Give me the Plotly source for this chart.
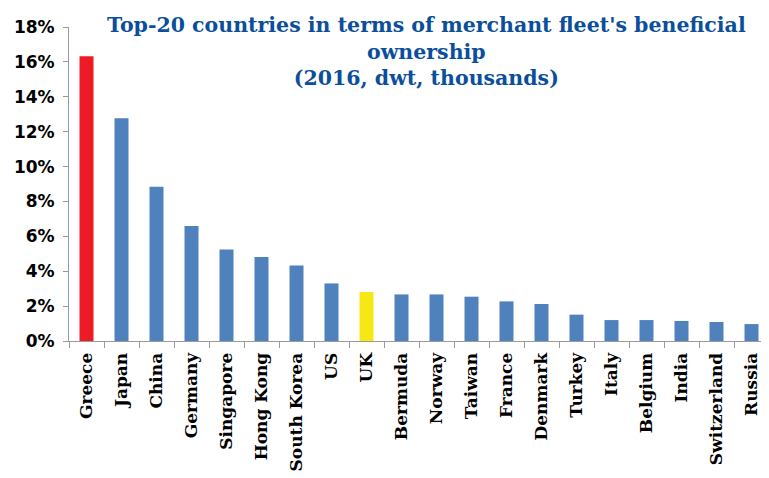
import plotly.graph_objects as go

countries = ["Greece", "Japan", "China", "Germany", "Singapore", "Hong Kong", "South Korea",
             "US", "UK", "Bermuda", "Norway", "Taiwan", "France", "Denmark", "Turkey",
             "Italy", "Belgium", "India", "Switzerland", "Russia"]
shares = [16.32, 12.77, 8.84, 6.59, 5.25, 4.81, 4.33, 3.30, 2.81, 2.67, 2.67, 2.54,
          2.27, 2.12, 1.51, 1.20, 1.20, 1.15, 1.09, 0.97]
y_ticks = [0, 2, 4, 6, 8, 10, 12, 14, 16, 18]
y_tick_labels = [f"{v}%" for v in y_ticks]

colors = []
for c in countries:
    if c == "Greece":
        colors.append("#ED1C24")
    elif c == "UK":
        colors.append("#F5E814")
    else:
        colors.append("#4F81BD")

fig = go.Figure(go.Bar(x=countries, y=shares, marker=dict(color=colors, line=dict(width=0)),
                       hoverinfo="x+y"))

# page body adds an 8px margin, so the figure is sized/offset to compensate
fig.update_layout(
    width=761, height=470,
    margin=dict(l=61, r=0, t=19, b=137, autoexpand=False),
    paper_bgcolor="white", plot_bgcolor="white",
    bargap=0.6,
    showlegend=False,
    xaxis=dict(
        automargin=False,
        tickangle=-90,
        tickfont=dict(family="DejaVu Serif", size=17, color="#000000", weight="bold"),
        showline=True, linecolor="#9a9a9a", linewidth=1,
        ticks="outside", ticklen=6, tickcolor="#9a9a9a", tickson="boundaries",
        ticklabelstandoff=4,
        showgrid=False,
    ),
    yaxis=dict(
        automargin=False,
        range=[0, 18], tickvals=y_ticks, ticktext=y_tick_labels,
        tickfont=dict(family="DejaVu Sans", size=17, color="#000000", weight="bold"),
        showline=True, linecolor="#9a9a9a", linewidth=1,
        ticks="outside", ticklen=5, tickcolor="#9a9a9a",
        ticklabelstandoff=5,
        showgrid=False, zeroline=False,
    ),
    annotations=[dict(
        text="Top-20 countries in terms of merchant fleet's beneficial<br>ownership<br>(2016, dwt, thousands)",
        x=0.51, y=1.05, xref="paper", yref="paper", xanchor="center", yanchor="top",
        showarrow=False, align="center",
        font=dict(family="DejaVu Serif", size=20.5, color="#0B4F9C", weight="bold"),
    )],
)

fig.write_html("out.html")
